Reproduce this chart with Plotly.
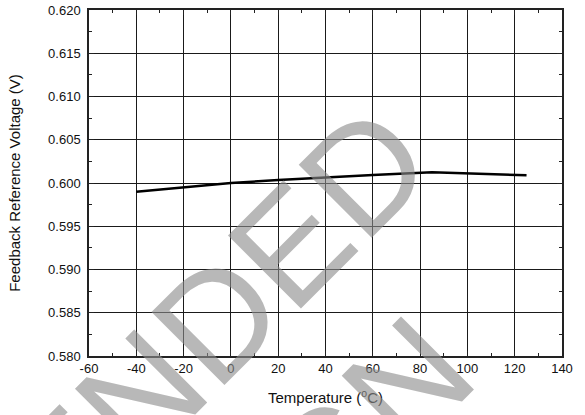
import plotly.graph_objects as go

# ---- data ----
temperature = [-40, -20, 0, 20, 40, 60, 85, 100, 125]
voltage = [0.5990, 0.5995, 0.6000, 0.60035, 0.60066, 0.60092, 0.60124, 0.60112, 0.60089]

x_ticks = [-60, -40, -20, 0, 20, 40, 60, 80, 100, 120, 140]
y_ticks = [0.580, 0.585, 0.590, 0.595, 0.600, 0.605, 0.610, 0.615, 0.620]

watermark_line1 = "NOT RECOMMENDED"
watermark_line2 = "FOR NEW DESIGN"

FONT = "Liberation Sans, Arial, sans-serif"
W, H = 585, 415
L, R, T, B = 89, 23, 10, 59
PW, PH = W - L - R, H - T - B


def px_to_paper(px, py):
    return (px - L) / PW, (H - B - py) / PH


fig = go.Figure()
fig.add_trace(go.Scatter(
    x=temperature, y=voltage, mode="lines",
    line=dict(color="black", width=2.5),
    showlegend=False, hoverinfo="skip",
))

axis_common = dict(
    showline=True, linecolor="#222", linewidth=1.5, mirror="ticks",
    ticks="inside", ticklen=5, tickcolor="#222", tickwidth=1,
    showgrid=True, gridcolor="#1a1a1a", gridwidth=1, zeroline=False,
    tickfont=dict(family=FONT, size=13, color="#111"),
)

fig.update_xaxes(
    range=[-60, 140], tickvals=x_ticks, ticktext=[str(v) for v in x_ticks],
    minor=dict(dtick=10, ticks="inside", ticklen=3, tickcolor="#222", showgrid=False),
    title=dict(text="Temperature (<sup>o</sup>C)", font=dict(family=FONT, size=15, color="#111"), standoff=17),
    **axis_common,
)
fig.update_yaxes(
    range=[0.580, 0.620], tickvals=y_ticks, ticktext=[f"{v:.3f}" for v in y_ticks],
    minor=dict(dtick=0.0025, ticks="inside", ticklen=3, tickcolor="#222", showgrid=False),
    ticklabelstandoff=4,
    title=dict(text="Feedback Reference Voltage (V)", font=dict(family=FONT, size=15, color="#111"), standoff=24),
    **axis_common,
)

# watermark (two centred lines, rotated 45 degrees)
for text, (cx, cy) in ((watermark_line1, (-150, 686)), (watermark_line2, (-23, 813))):
    px, py = px_to_paper(cx, cy)
    fig.add_annotation(
        xref="paper", yref="paper", x=px, y=py, xanchor="center", yanchor="middle",
        text=text, showarrow=False, textangle=-45,
        font=dict(family=FONT, size=150, color="rgba(140,140,140,0.62)"),
    )

fig.update_layout(
    width=W, height=H,
    margin=dict(l=L, r=R, t=T, b=B, autoexpand=False),
    paper_bgcolor="white", plot_bgcolor="white",
    font=dict(family=FONT, color="#111"),
)

fig.write_html(
    "out.html",
    config={"displayModeBar": False},
    post_script="document.body.style.margin='0';",
)
